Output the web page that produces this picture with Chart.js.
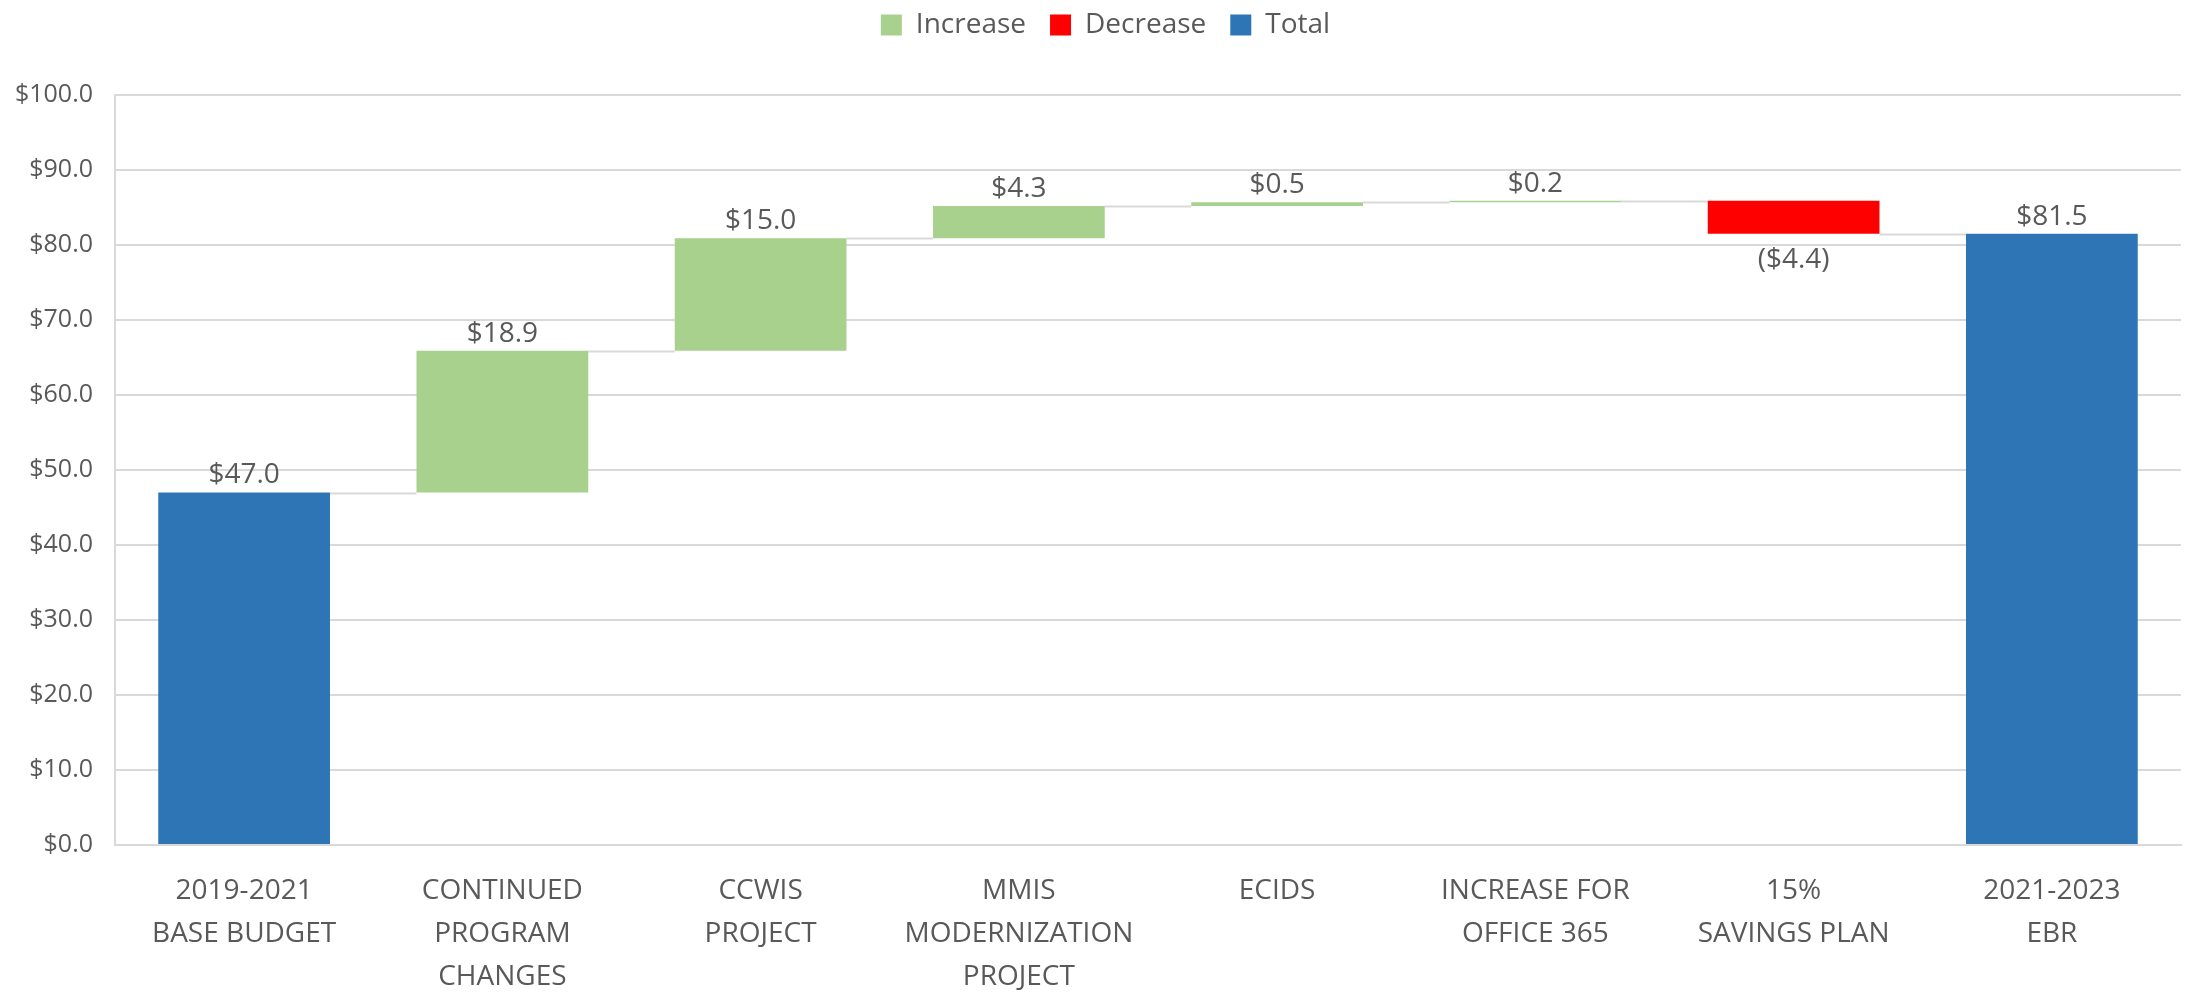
<!DOCTYPE html>
<html>
<head>
<meta charset="utf-8">
<script src="https://cdn.jsdelivr.net/npm/chart.js@4.4.1/dist/chart.umd.min.js"></script>
<style>
  html, body { margin: 0; padding: 0; background: #ffffff; }
  #wrap { width: 2190px; height: 994px; }
</style>
</head>
<body>
<div id="wrap"><canvas id="chart" width="2190" height="994"></canvas></div>
<script>
// Budget bridge: 2019-2021 base budget to 2021-2023 EBR (millions)
const categories = [
  ['2019-2021', 'BASE BUDGET'],
  ['CONTINUED', 'PROGRAM', 'CHANGES'],
  ['CCWIS', 'PROJECT'],
  ['MMIS', 'MODERNIZATION', 'PROJECT'],
  ['ECIDS'],
  ['INCREASE FOR', 'OFFICE 365'],
  ['15%', 'SAVINGS PLAN'],
  ['2021-2023', 'EBR']
];
const stepValues = [47.0, 18.9, 15.0, 4.3, 0.5, 0.2, -4.4, 81.5];
const stepKinds = ['total', 'increase', 'increase', 'increase', 'increase', 'increase', 'decrease', 'total'];
const yTickValues = [0, 10, 20, 30, 40, 50, 60, 70, 80, 90, 100];

const seriesNames = { increase: 'Increase', decrease: 'Decrease', total: 'Total' };
const seriesColors = { increase: '#a9d18e', decrease: '#ff0000', total: '#2e75b6' };
const textColor = '#595959';
const lineColor = '#d9d9d9';
const fontFamily = '"Open Sans", "Noto Sans", sans-serif';

// Floating [low, high] ranges built from the running total
const ranges = [];
const levels = [];
let running = 0;
stepValues.forEach((v, i) => {
  if (stepKinds[i] === 'total') {
    ranges.push([0, v]);
    running = v;
  } else {
    const next = running + v;
    ranges.push([Math.min(running, next), Math.max(running, next)]);
    running = next;
  }
  levels.push(running);
});

const fmtMoney = v => '$' + Math.abs(v).toFixed(1);
const fmtLabel = v => v < 0 ? '(' + fmtMoney(v) + ')' : fmtMoney(v);

const datasets = ['increase', 'decrease', 'total'].map(kind => ({
  label: seriesNames[kind],
  data: ranges.map((r, i) => stepKinds[i] === kind ? r : null),
  backgroundColor: seriesColors[kind],
  borderWidth: 0,
  grouped: false,
  categoryPercentage: 1.0,
  barPercentage: 0.665
}));

function barElementAt(chart, index) {
  for (let d = 0; d < chart.data.datasets.length; d++) {
    if (chart.data.datasets[d].data[index] != null) {
      return chart.getDatasetMeta(d).data[index];
    }
  }
  return null;
}

// Thin connectors from each bar's running level to the next bar
const connectorPlugin = {
  id: 'connectors',
  beforeDatasetsDraw(chart) {
    const { ctx, scales: { y } } = chart;
    ctx.save();
    ctx.strokeStyle = lineColor;
    ctx.lineWidth = 2;
    for (let i = 0; i < levels.length - 1; i++) {
      const a = barElementAt(chart, i);
      const b = barElementAt(chart, i + 1);
      if (!a || !b) continue;
      const yy = Math.round(y.getPixelForValue(levels[i])) + 0.5;
      ctx.beginPath();
      ctx.moveTo(a.x + a.width / 2, yy);
      ctx.lineTo(b.x - b.width / 2, yy);
      ctx.stroke();
    }
    ctx.restore();
  }
};

// Value labels above rising/total bars, below falling bars
const valueLabelPlugin = {
  id: 'valueLabels',
  afterDatasetsDraw(chart) {
    const { ctx, scales: { y } } = chart;
    ctx.save();
    ctx.font = '28px ' + fontFamily;
    ctx.fillStyle = textColor;
    ctx.textAlign = 'center';
    ctx.textBaseline = 'middle';
    stepValues.forEach((v, i) => {
      const el = barElementAt(chart, i);
      if (!el) return;
      const r = ranges[i];
      const ty = v < 0 ? y.getPixelForValue(r[0]) + 26 : y.getPixelForValue(r[1]) - 17;
      ctx.fillText(fmtLabel(v), el.x, ty);
    });
    ctx.restore();
  }
};

// Fixed legend band height, legend row nudged right of the canvas centre
const legendBandPlugin = {
  id: 'legendBand',
  afterInit(chart) {
    const legend = chart.legend;
    if (!legend) return;
    const baseFit = legend.fit.bind(legend);
    legend.fit = function () {
      baseFit();
      this.height = 108;
    };
  },
  afterLayout(chart) {
    const legend = chart.legend;
    if (!legend) return;
    legend.left += 15;
    legend.right += 15;
  }
};

new Chart(document.getElementById('chart'), {
  type: 'bar',
  data: { labels: categories, datasets },
  plugins: [legendBandPlugin, connectorPlugin, valueLabelPlugin],
  options: {
    responsive: false,
    animation: false,
    devicePixelRatio: 1,
    layout: { padding: { top: -13, right: 9, bottom: 0, left: 0 } },
    plugins: {
      legend: {
        position: 'top',
        align: 'center',
        labels: {
          boxWidth: 21,
          boxHeight: 21,
          padding: 24,
          color: textColor,
          font: { family: fontFamily, size: 28, lineHeight: 1 }
        }
      },
      tooltip: { enabled: false },
      title: { display: false }
    },
    scales: {
      x: {
        grid: { display: false, drawTicks: false },
        border: { display: true, color: lineColor, width: 2 },
        ticks: {
          color: textColor,
          padding: 24,
          maxRotation: 0,
          autoSkip: false,
          font: { family: fontFamily, size: 28, lineHeight: 1.55 }
        },
        afterFit(scale) { scale.height = 149; }
      },
      y: {
        min: 0,
        max: 100,
        grid: { color: lineColor, lineWidth: 2, drawTicks: false },
        border: { display: true, color: lineColor, width: 2 },
        afterBuildTicks(scale) { scale.ticks = yTickValues.map(v => ({ value: v })); },
        ticks: {
          color: textColor,
          padding: 22,
          font: { family: fontFamily, size: 25 },
          callback: v => '$' + Number(v).toFixed(1)
        },
        afterFit(scale) { scale.width = 115; }
      }
    }
  }
});
</script>
</body>
</html>
